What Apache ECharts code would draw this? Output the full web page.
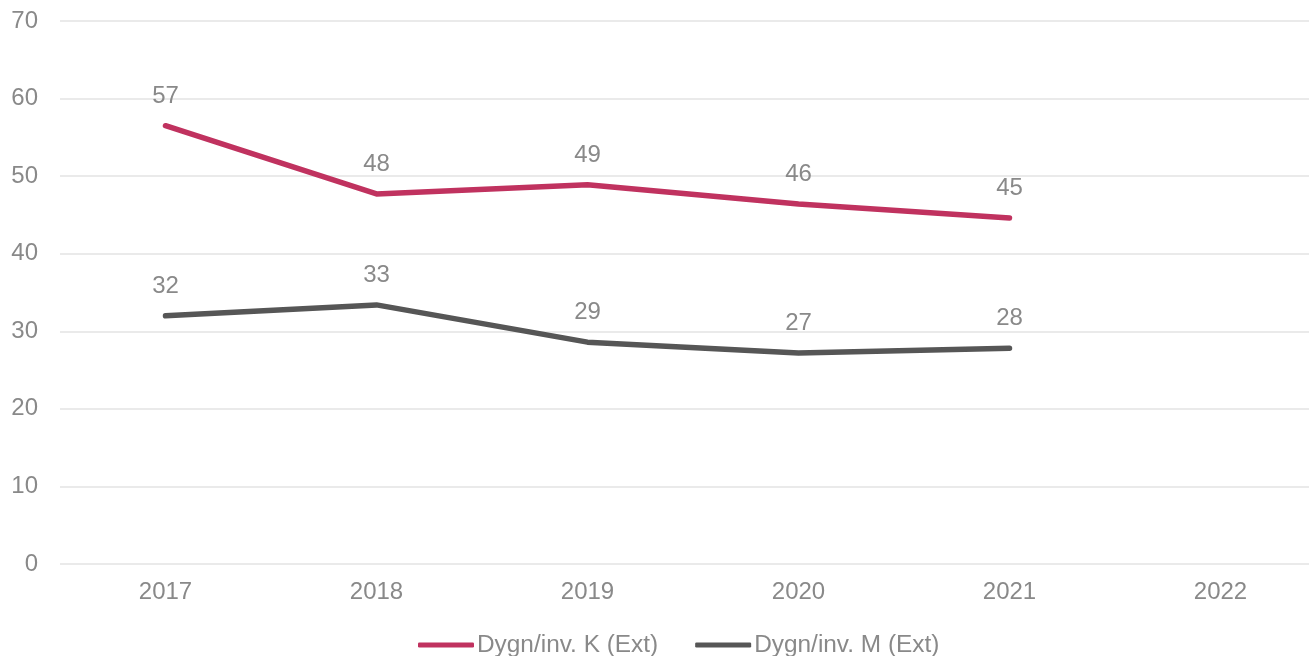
<!DOCTYPE html>
<html>
<head>
<meta charset="utf-8">
<script src="https://cdn.jsdelivr.net/npm/echarts@6/dist/echarts.min.js"></script>
<style>
  html, body { margin: 0; padding: 0; background: #fff; overflow: hidden; }
  #chart { width: 1326px; height: 656px; overflow: hidden; }
</style>
</head>
<body>
<div id="chart"></div>
<script>
const years = ['2017', '2018', '2019', '2020', '2021', '2022']
const seriesK = [56.5, 47.7, 48.9, 46.4, 44.6, null]
const seriesM = [32.0, 33.4, 28.6, 27.2, 27.8, null]
const nameK = 'Dygn/inv. K (Ext)'
const nameM = 'Dygn/inv. M (Ext)'

const fontFamily = '"Liberation Sans", Arial, sans-serif'
const textColor = '#898989'

const chart = echarts.init(document.getElementById('chart'))

function lineSeries (name, data, color) {
  return {
    name: name,
    type: 'line',
    data: data,
    // labels need a symbol, keep it tiny under the thick line
    symbol: 'circle',
    symbolSize: 1,
    showSymbol: true,
    lineStyle: { color: color, width: 5.5, cap: 'round', join: 'round' },
    itemStyle: { color: color },
    label: {
      show: true,
      position: 'top',
      distance: 17,
      fontFamily: fontFamily,
      fontSize: 24,
      color: textColor,
      formatter: p => (p.value == null ? '' : String(Math.round(p.value)))
    },
    animation: false
  }
}

chart.setOption({
  backgroundColor: '#fff',
  grid: { left: 60, top: 21, right: 0, bottom: 92 },
  legend: {
    top: 628,
    left: 413,
    itemWidth: 56,
    itemHeight: 5,
    itemGap: 37,
    icon: 'roundRect',
    textStyle: { fontFamily: fontFamily, fontSize: 24.4, color: textColor, padding: [0, 0, 0, -2] },
    data: [nameK, nameM]
  },
  xAxis: {
    type: 'category',
    data: years,
    axisLine: { show: false },
    axisTick: { show: false },
    axisLabel: { fontFamily: fontFamily, fontSize: 24, color: textColor, margin: 16 }
  },
  yAxis: {
    type: 'value',
    min: 0,
    max: 70,
    interval: 10,
    axisLine: { show: false },
    axisTick: { show: false },
    axisLabel: { fontFamily: fontFamily, fontSize: 24, color: textColor, margin: 22 },
    splitLine: { lineStyle: { color: '#e3e3e3', width: 1.5 } }
  },
  series: [
    lineSeries(nameK, seriesK, '#c0325f'),
    lineSeries(nameM, seriesM, '#565656')
  ]
})
</script>
</body>
</html>
